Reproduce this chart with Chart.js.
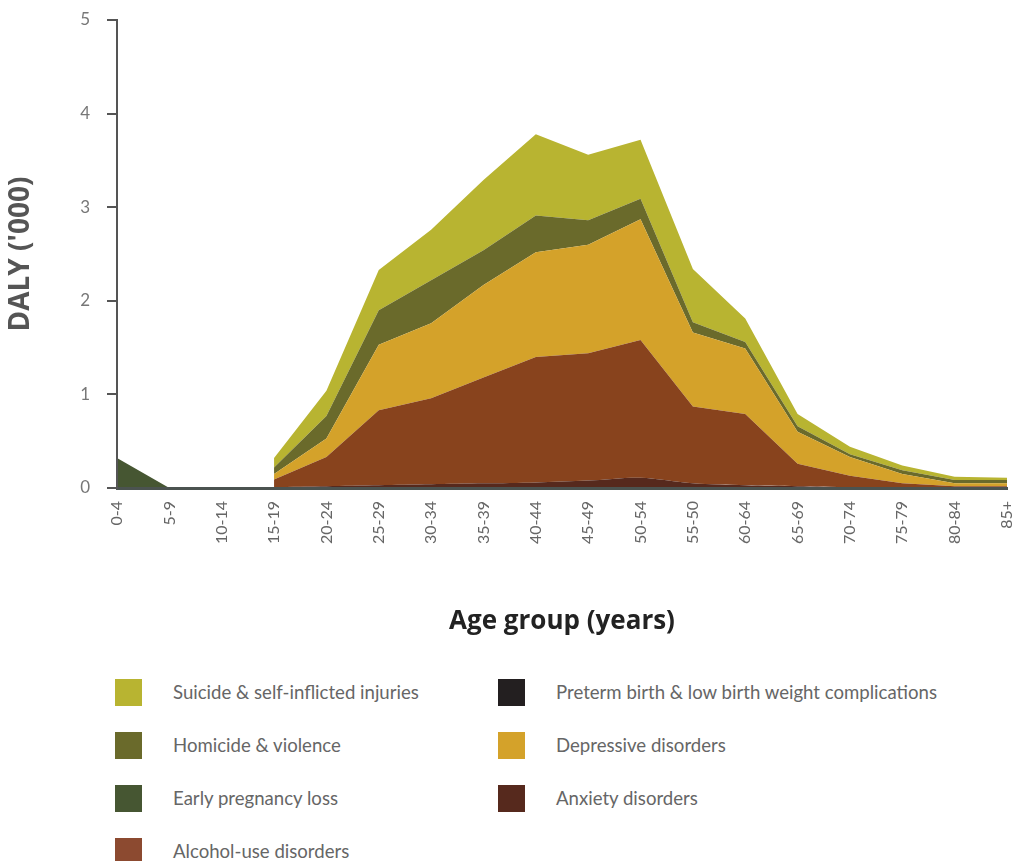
<!DOCTYPE html>
<html><head><meta charset="utf-8">
<script src="https://cdn.jsdelivr.net/npm/chart.js@4"></script>
<style>
body{margin:0;background:#fff;}
#wrap{position:relative;width:1016px;height:861px;overflow:hidden;}
#c{position:absolute;left:0;top:0;}
.sw{position:absolute;width:27px;height:27px;}
.lt{position:absolute;font-family:Lato,"Open Sans",sans-serif;font-size:18.6px;color:#666;line-height:20px;white-space:nowrap;}
</style></head>
<body>
<div id="wrap"><canvas id="c" width="1016" height="650"></canvas><div id="legend"></div></div>
<script>
const ageGroups = ['0-4','5-9','10-14','15-19','20-24','25-29','30-34','35-39','40-44','45-49','50-54','55-50','60-64','65-69','70-74','75-79','80-84','85+'];
const yTicks = [0,1,2,3,4,5];

// individual (non-cumulative) values, DALY ('000)
const earlyPregnancyLoss = [0.32,0,0,0,0,0,0,0,0,0,0,0,0,0,0,0,0,0];
const pretermBirth       = [null,null,null,0,0,0,0,0,0,0,0,0,0,0,0,0,0,0];
const anxiety            = [null,null,null,0.01,0.02,0.03,0.04,0.05,0.06,0.08,0.11,0.05,0.03,0.02,0.01,0.005,0,0];
const alcohol            = [null,null,null,0.08,0.31,0.80,0.92,1.13,1.34,1.36,1.47,0.82,0.76,0.24,0.12,0.045,0.02,0.02];
const depressive         = [null,null,null,0.06,0.20,0.70,0.80,0.99,1.12,1.16,1.29,0.79,0.70,0.34,0.20,0.10,0.03,0.03];
const homicide           = [null,null,null,0.07,0.24,0.37,0.46,0.37,0.39,0.26,0.22,0.11,0.07,0.06,0.03,0.04,0.035,0.035];
const suicide            = [null,null,null,0.10,0.27,0.43,0.54,0.75,0.87,0.70,0.63,0.57,0.25,0.13,0.08,0.05,0.035,0.025];

const names = {
  suicide:'Suicide & self-inflicted injuries',
  homicide:'Homicide & violence',
  early:'Early pregnancy loss',
  alcohol:'Alcohol-use disorders',
  preterm:'Preterm birth & low birth weight complications',
  depressive:'Depressive disorders',
  anxiety:'Anxiety disorders'
};
const colors = {
  suicide:'#b8b431',
  homicide:'#6a6a2b',
  early:'#465632',
  alcohol:'#88431d',
  preterm:'#231f20',
  depressive:'#d4a22a',
  anxiety:'#56291d'
};
const legendSwatch = Object.assign({}, colors, {alcohol:'#8c4a30'});

// stacking order bottom -> top
const stackOrder = [
  ['early', earlyPregnancyLoss],
  ['preterm', pretermBirth],
  ['anxiety', anxiety],
  ['alcohol', alcohol],
  ['depressive', depressive],
  ['homicide', homicide],
  ['suicide', suicide]
];
const legendOrder = ['suicide','homicide','early','alcohol','preterm','depressive','anxiety'];

const datasets = stackOrder.map(([key, data], i) => ({
  label: names[key],
  data: data,
  backgroundColor: colors[key],
  borderColor: colors[key],
  borderWidth: 0,
  pointRadius: 0,
  pointHoverRadius: 0,
  tension: key === 'anxiety' ? 0.3 : 0,
  fill: i === 0 ? 'origin' : '-1'
}));

new Chart(document.getElementById('c'), {
  type: 'line',
  data: { labels: ageGroups, datasets },
  options: {
    responsive: false,
    animation: false,
    events: [],
    layout: { padding: { top: 20, right: 9, bottom: 0, left: 0 } },
    plugins: { legend: { display: false }, tooltip: { enabled: false } },
    scales: {
      x: {
        type: 'category',
        offset: false,
        stacked: true,
        grid: { display: false, drawTicks: false },
        border: { display: true, color: '#4b5350', width: 3, z: 1 },
        ticks: {
          autoSkip: false, minRotation: 90, maxRotation: 90, padding: 13,
          color: '#666', font: { family: 'Lato', size: 16 }
        },
        title: {
          display: true, text: 'Age group (years)', color: '#222',
          font: { family: 'Open Sans', size: 26, weight: 'bold' },
          padding: { top: 0, bottom: 13 }
        },
        afterFit: s => { s.height = 650 - 488; s.paddingLeft = 0; s.paddingRight = 0; }
      },
      y: {
        stacked: true,
        min: 0, max: 5,
        afterBuildTicks: s => { s.ticks = yTicks.map(v => ({ value: v })); },
        grid: { display: true, drawOnChartArea: false, drawTicks: true, tickLength: 10, color: '#555', lineWidth: 2 },
        border: { display: true, color: '#555', width: 2, z: 1 },
        ticks: { padding: 17, color: '#777', font: { family: 'Lato', size: 17 } },
        title: {
          display: true, text: "DALY ('000)", color: '#555',
          font: { family: 'Open Sans', size: 28, weight: 'bold' },
          padding: { top: 4, bottom: 0 }
        },
        afterFit: s => { s.width = 117; s.paddingTop = 0; s.paddingBottom = 0; }
      }
    }
  }
});

// HTML legend, two columns, column-major, four rows
const leg = document.getElementById('legend');
legendOrder.forEach((key, i) => {
  const col = Math.floor(i / 4), row = i % 4;
  const sx = col === 0 ? 115 : 498;
  const tx = col === 0 ? 173 : 556;
  const cy = 692 + row * 53;
  const sw = document.createElement('div');
  sw.className = 'sw';
  sw.style.left = sx + 'px';
  sw.style.top = (cy - 13) + 'px';
  sw.style.background = legendSwatch[key];
  const t = document.createElement('div');
  t.className = 'lt';
  t.style.left = tx + 'px';
  t.style.top = (cy - 10) + 'px';
  t.textContent = names[key];
  leg.appendChild(sw); leg.appendChild(t);
});
</script>
</body></html>
